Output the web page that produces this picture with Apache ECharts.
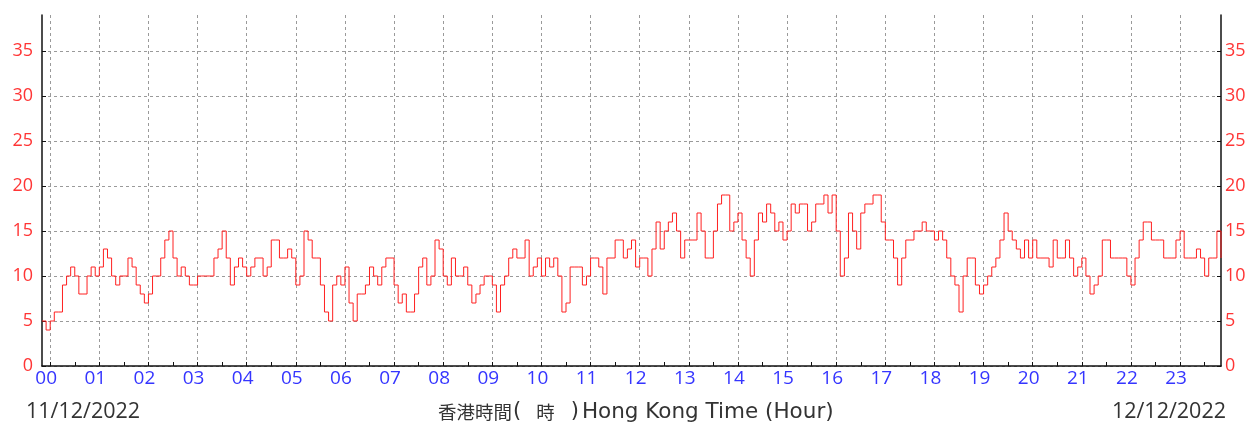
<!DOCTYPE html>
<html>
<head>
<meta charset="utf-8">
<script src="https://cdn.jsdelivr.net/npm/echarts@6/dist/echarts.min.js"></script>
<style>
html,body{margin:0;padding:0;background:#fff;}
#c{width:1255px;height:423px;}
</style>
</head>
<body>
<div id="c"></div>
<script>
// 5-minute samples from 23:50 (11/12/2022) to 23:50 (12/12/2022)
const startMinute = -10;
const stepMinutes = 5;
const values = [
  5,4,5,6,6,9,10,11,10,8,8,10,
  11,10,11,13,12,10,9,10,10,12,11,9,
  8,7,8,10,10,12,14,15,12,10,11,10,
  9,9,10,10,10,10,12,13,15,12,9,11,
  12,11,10,11,12,12,10,11,14,14,12,12,
  13,12,9,10,15,14,12,12,9,6,5,9,
  10,9,11,7,5,8,8,9,11,10,9,11,
  12,12,9,7,8,6,6,8,11,12,9,10,
  14,13,10,9,12,10,10,11,9,7,8,9,
  10,10,9,6,9,10,12,13,12,12,14,10,
  11,12,10,12,11,12,10,6,7,11,11,11,
  9,10,12,12,11,8,12,12,14,14,12,13,
  14,11,12,12,10,13,16,13,15,16,17,15,
  12,14,14,14,17,15,12,12,15,18,19,19,
  15,16,17,14,12,10,14,17,16,18,17,15,
  16,14,15,18,17,18,18,15,16,18,18,19,
  17,19,15,10,12,17,15,13,17,18,18,19,
  19,16,14,14,12,9,12,14,14,15,15,16,
  15,15,14,15,14,12,10,9,6,10,12,12,
  9,8,9,10,11,12,14,17,15,14,13,12,
  14,12,14,12,12,12,11,14,12,12,14,12,
  10,11,12,10,8,9,10,14,14,12,12,12,
  12,10,9,12,14,16,16,14,14,14,12,12,
  12,14,15,12,12,12,13,12,10,12,12,15,
  12
];
const yTickValues = [0,5,10,15,20,25,30,35];
const startDateLabel = '11/12/2022';
const endDateLabel = '12/12/2022';
const titleZh = '香港時間';
const titleZhUnit = '時';
const titleEn = 'Hong Kong Time (Hour)';

const pad = n => (n < 10 ? '0' : '') + n;
const categories = values.map((v, i) => {
  let m = startMinute + i * stepMinutes;
  m = ((m % 1440) + 1440) % 1440;
  return pad(Math.floor(m / 60)) + ':' + pad(m % 60);
});

const FONT = "'Open Sans', 'Noto Sans CJK TC', sans-serif";
const LAT = "'DejaVu Sans', sans-serif";
const CJK = "'Noto Sans CJK TC', sans-serif";
const grid = '#9a9a9a';
const isHour = (i, v) => v.slice(3) === '00';
const isHalf = (i, v) => v.slice(3) === '00' || v.slice(3) === '30';
const txt = '#333';

const chart = echarts.init(document.getElementById('c'), null, {renderer: 'canvas'});
chart.setOption({
  animation: false,
  backgroundColor: '#fff',
  grid: {left: 42, right: 34, top: 15, bottom: 57},
  title: [
    {text: startDateLabel, left: 26, top: 401, padding: 0, textStyle: {fontFamily: FONT, fontSize: 21.5, fontWeight: 'normal', color: txt}},
    {text: endDateLabel, right: 29, top: 401, padding: 0, textStyle: {fontFamily: FONT, fontSize: 21.5, fontWeight: 'normal', color: txt}},
    {
      text: '{c|' + titleZh + '}{p|(}{c|' + titleZhUnit + '}{q|)}{l|' + titleEn + '}',
      left: 438, top: 400, padding: 0,
      textStyle: {
        fontWeight: 'normal', color: txt,
        rich: {
          c: {fontFamily: CJK, fontSize: 18.5, color: txt, lineHeight: 24},
          p: {fontFamily: LAT, fontSize: 21, color: txt, lineHeight: 24, padding: [0, 15, 0, 1]},
          q: {fontFamily: LAT, fontSize: 21, color: txt, lineHeight: 24, padding: [0, 3, 0, 16]},
          l: {fontFamily: LAT, fontSize: 21.5, color: txt, lineHeight: 24}
        }
      }
    }
  ],
  xAxis: {
    type: 'category',
    data: categories,
    boundaryGap: false,
    axisLine: {lineStyle: {color: '#111', width: 1.5}},
    axisTick: {show: true, inside: true, length: 4, interval: isHalf, lineStyle: {color: '#111'}},
    axisLabel: {
      interval: isHour,
      formatter: v => v.slice(0, 2),
      color: '#3535ff', fontSize: 19, fontFamily: FONT, margin: 3,
      padding: [0, 8, 0, 0]
    },
    splitLine: {show: true, interval: isHour, lineStyle: {color: grid, type: [3, 3], width: 1}}
  },
  yAxis: [
    {
      type: 'value', min: 0, max: 39, interval: 5, position: 'left',
      axisLine: {show: true, lineStyle: {color: '#111', width: 1.5}},
      axisTick: {show: true, inside: true, length: 4, customValues: yTickValues, lineStyle: {color: '#111'}},
      axisLabel: {customValues: yTickValues, color: '#ff3535', fontSize: 18, fontFamily: FONT, margin: 9},
      splitLine: {show: true, lineStyle: {color: [grid,grid,grid,grid,grid,grid,grid,grid,'rgba(0,0,0,0)'], type: [3, 3], width: 1}}
    },
    {
      type: 'value', min: 0, max: 39, interval: 5, position: 'right',
      axisLine: {show: true, lineStyle: {color: '#111', width: 1.5}},
      axisTick: {show: true, inside: true, length: 4, customValues: yTickValues, lineStyle: {color: '#111'}},
      axisLabel: {customValues: yTickValues, color: '#ff3535', fontSize: 18, fontFamily: FONT, margin: 4},
      splitLine: {show: false}
    }
  ],
  series: [{
    type: 'line',
    data: values,
    step: 'end',
    showSymbol: false,
    lineStyle: {color: '#ff2020', width: 1},
    yAxisIndex: 0
  }]
});
</script>
</body>
</html>
